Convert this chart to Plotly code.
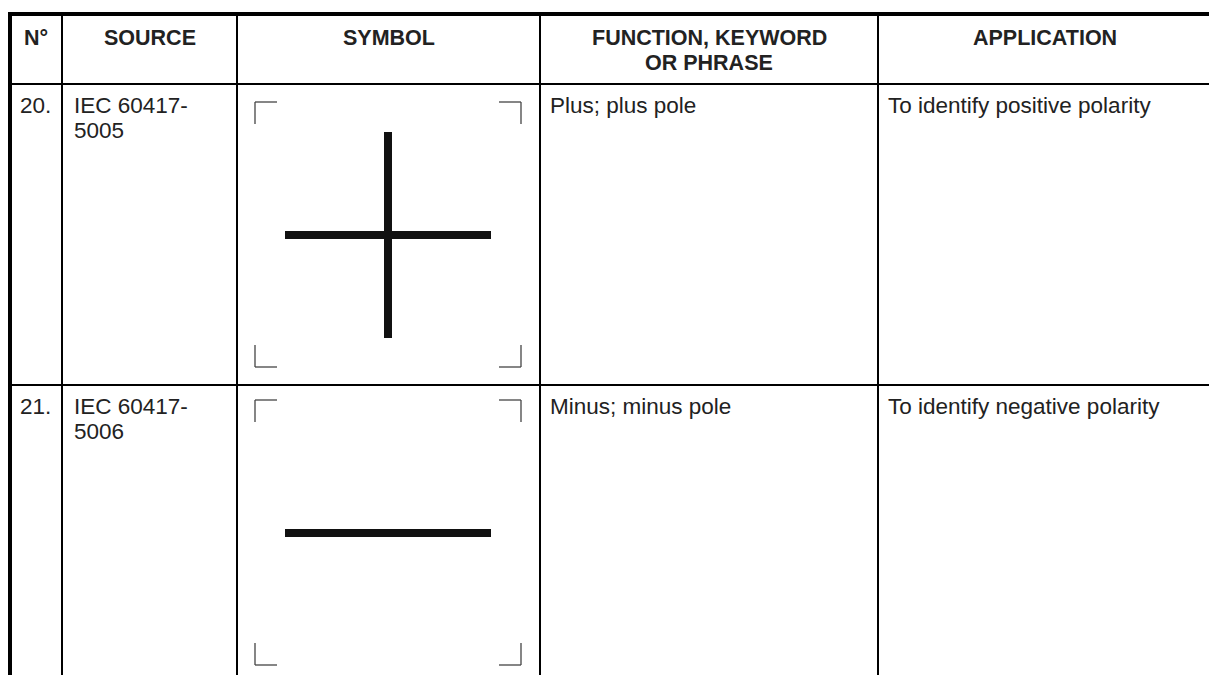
import plotly.graph_objects as go

# ---- table content ----
headers = [["N°"], ["SOURCE"], ["SYMBOL"], ["FUNCTION, KEYWORD", "OR PHRASE"], ["APPLICATION"]]
numbers = ["20.", "21."]
sources = [["IEC 60417-", "5005"], ["IEC 60417-", "5006"]]
symbols = ["plus", "minus"]
functions = ["Plus; plus pole", "Minus; minus pole"]
applications = ["To identify positive polarity", "To identify negative polarity"]

# ---- layout geometry (pixels) ----
W, H = 1209, 675
col_edges = [10, 62, 237, 540, 878, 1260]
top_y = 14
header_bottom = 84
row_h = 301
FONT = "Liberation Sans, Arial, sans-serif"
FS_BODY = 22.5
FS_HEAD = 21.5
LINE = 25
TXT = "#222222"

shapes = []
annotations = []

def hline(y, x0, x1, w, color="#000"):
    shapes.append(dict(type="line", xref="x", yref="y", x0=x0, x1=x1, y0=y, y1=y,
                       line=dict(color=color, width=w)))

def vline(x, y0, y1, w, color="#000"):
    shapes.append(dict(type="line", xref="x", yref="y", x0=x, x1=x, y0=y0, y1=y1,
                       line=dict(color=color, width=w)))

def rect(x0, y0, x1, y1, color="#111111"):
    shapes.append(dict(type="rect", xref="x", yref="y", x0=x0, x1=x1, y0=y0, y1=y1,
                       line=dict(width=0), fillcolor=color))

def text(x, y, s, bold=False, anchor="left", size=FS_BODY):
    annotations.append(dict(x=x, y=y, xref="x", yref="y", text=("<b>%s</b>" % s) if bold else s,
                            showarrow=False, xanchor=anchor, yanchor="middle",
                            font=dict(family=FONT, size=size, color=TXT)))

n_rows = len(numbers)
row_tops = [header_bottom + i * row_h for i in range(n_rows)]

# borders
hline(top_y, 8, W + 5, 4)
vline(col_edges[0], top_y - 2, H + 5, 4)
hline(header_bottom, col_edges[0], W + 5, 2)
for rt in row_tops[1:]:
    hline(rt, col_edges[0], W + 5, 2)
for x in col_edges[1:5]:
    vline(x, top_y, H + 5, 2)

# header text
for i, lines in enumerate(headers):
    cx = (col_edges[i] + col_edges[i + 1]) / 2 if i < 4 else 1045
    for j, ln in enumerate(lines):
        text(cx, 38 + j * LINE, ln, bold=True, anchor="center", size=FS_HEAD)

# body text
for r in range(n_rows):
    rt = row_tops[r]
    y1 = rt + 21
    text(col_edges[0] + 8, y1, numbers[r])
    for j, ln in enumerate(sources[r]):
        text(col_edges[1] + 10, y1 + j * LINE, ln)
    text(col_edges[3] + 8, y1, functions[r])
    text(col_edges[4] + 8, y1, applications[r])

    # symbol frame corner marks
    bx0, bx1 = col_edges[2] + 18, col_edges[3] - 19
    by0 = rt + (18 if r == 0 else 15)
    by1 = by0 + 265
    arm = 22
    mc = "#444444"
    for (cx, dx) in ((bx0, 1), (bx1, -1)):
        for (cy, dy) in ((by0, 1), (by1, -1)):
            hline(cy, cx, cx + dx * arm, 1.3, mc)
            vline(cx, cy, cy + dy * arm, 1.3, mc)

    # the symbol itself
    cxs = (bx0 + bx1) / 2
    cys = by0 + 133
    half, t = 103, 4
    if symbols[r] in ("plus", "minus"):
        rect(cxs - half, cys - t, cxs + half, cys + t)
    if symbols[r] == "plus":
        rect(cxs - t, cys - half, cxs + t, cys + half)

fig = go.Figure()
fig.update_layout(
    width=W, height=H,
    margin=dict(l=0, r=0, t=0, b=0),
    paper_bgcolor="white", plot_bgcolor="white",
    xaxis=dict(range=[0, W], visible=False, fixedrange=True),
    yaxis=dict(range=[H, 0], visible=False, fixedrange=True),
    shapes=shapes, annotations=annotations, showlegend=False,
)
fig.write_html("out.html", config={"displayModeBar": False},
               post_script="document.body.style.margin='0';document.body.style.overflow='hidden';")
